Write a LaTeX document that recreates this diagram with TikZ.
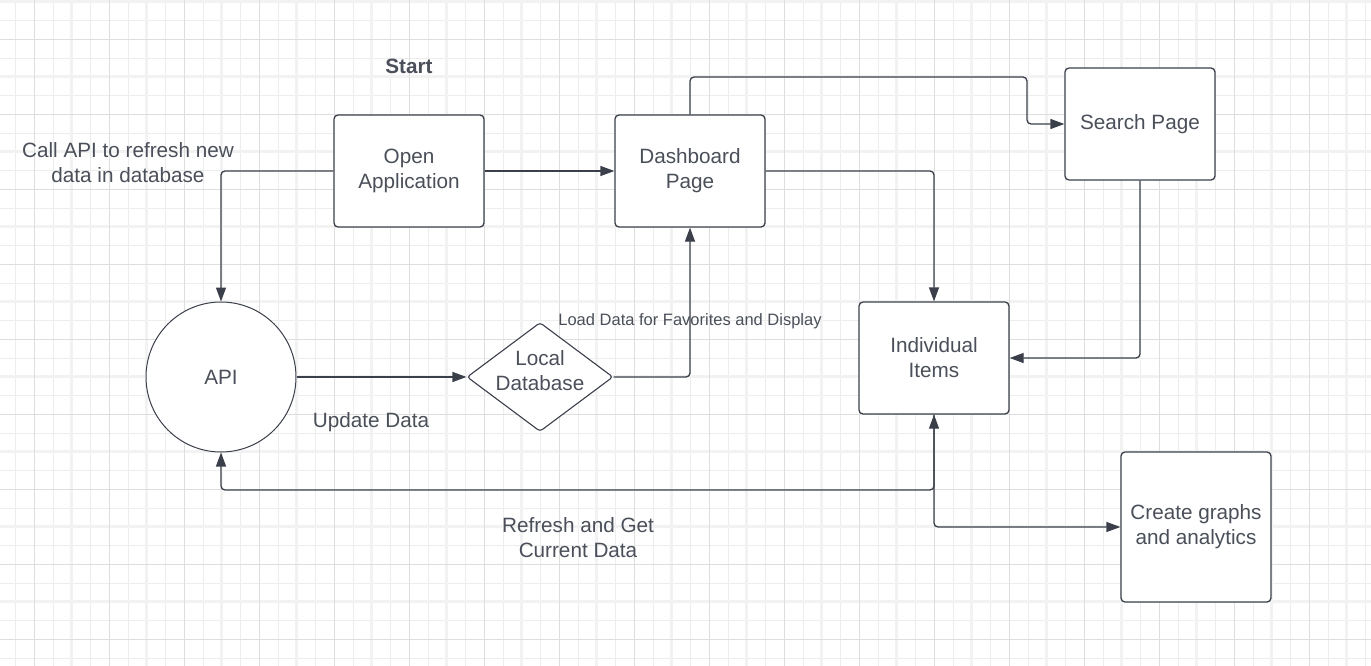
\documentclass[tikz,border=0pt]{standalone}
\usepackage{fontspec}
\setmainfont{Liberation Sans}
\usetikzlibrary{arrows.meta,shapes.geometric}
\definecolor{ln}{HTML}{3A3F4A}
\definecolor{tx}{HTML}{4A4F59}
\definecolor{gminor}{HTML}{EDEDED}
\definecolor{gthick}{HTML}{F2F2F2}
\definecolor{gdark}{HTML}{DEDEDE}
\begin{document}
\begin{tikzpicture}[x=1pt,y=-1pt,
  box/.style={draw=ln, line width=1.3pt, rounded corners=4pt, fill=white,
    minimum width=150pt, minimum height=112pt, inner sep=0pt, align=center,
    text=tx, font=\fontsize{20.7}{25}\selectfont},
  lbl/.style={text=tx, align=center, inner sep=0pt, font=\fontsize{20.7}{25}\selectfont},
  conn/.style={draw=ln, line width=1.3pt, rounded corners=4pt, -{Triangle[length=14pt,width=10pt]}},
  conn2/.style={draw=ln, line width=1.3pt, rounded corners=4pt, {Triangle[length=14pt,width=10pt]}-{Triangle[length=14pt,width=10pt]}}
]
\useasboundingbox (0,0) rectangle (1371,666);
\fill[white] (0,0) rectangle (1371,666);
% grid
\foreach \i in {0,...,72} {\draw[gminor, line width=0.8pt] ({15.5+18.75*\i},0) -- ++(0,666);}
\foreach \i in {0,...,35} {\draw[gminor, line width=0.8pt] (0,{1.7+18.75*\i}) -- ++(1371,0);}
\foreach \i in {0,...,17} {\draw[gthick, line width=2.5pt] ({71.7+75*\i},0) -- ++(0,666);}
\foreach \i in {0,...,8} {\draw[gthick, line width=2.5pt] (0,{1.7+75*\i}) -- ++(1371,0);}
\foreach \i in {0,...,17} {\draw[gdark, line width=0.9pt] ({34.3+75*\i},0) -- ++(0,666);}
\foreach \i in {0,...,8} {\draw[gdark, line width=0.9pt] (0,{39.3+75*\i}) -- ++(1371,0);}

% nodes
\node[box] (open) at (409,171) {Open\\Application};
\node[box] (dash) at (690,171) {Dashboard\\Page};
\node[box] (search) at (1140,124) {Search Page};
\node[box] (ind) at (934,358) {Individual\\Items};
\node[box, minimum height=150pt] (cg) at (1196,527) {Create graphs\\and analytics};
\node[circle, draw=ln, line width=1pt, fill=white, minimum size=150pt, inner sep=0pt,
  text=tx, font=\fontsize{20.7}{25}\selectfont] (api) at (221,377) {API};
\node[diamond, draw=ln, line width=1.1pt, fill=white, minimum width=146pt, minimum height=109pt,
  inner sep=0pt, rounded corners=3pt] (db) at (540,377) {};
\node[lbl] (dbl) at (540,371) {Local\\Database};

% labels
\node[lbl, font=\fontsize{20.7}{25}\selectfont\bfseries] (start) at (409,66) {Start};
\node[lbl] (callapi) at (128,163) {Call API to refresh new\\data in database};
\node[lbl] (upd) at (371,422) {Update Data};
\node[lbl, font=\fontsize{16.5}{20}\selectfont] (load) at (690,321) {Load Data for Favorites and Display};
\node[lbl] (refresh) at (578,538) {Refresh and Get\\Current Data};

% connectors
\coordinate (c1) at (1027,77);
\coordinate (c2) at (934,490);
\draw[conn] (open.east) -- (dash.west);
\draw[conn] (open.west) -| (api.north);
\draw[conn] (api.east) -- (db.west);
\draw[conn] (db.east) -| (dash.south);
\draw[conn] (dash.north) |- (c1) |- (search.west);
\draw[conn] (dash.east) -| (ind.north);
\draw[conn] (search.south) |- (ind.east);
\draw[conn2] (api.south) |- (c2) -- (ind.south);
\draw[conn] (ind.south) |- (cg.west);
\end{tikzpicture}
\end{document}
